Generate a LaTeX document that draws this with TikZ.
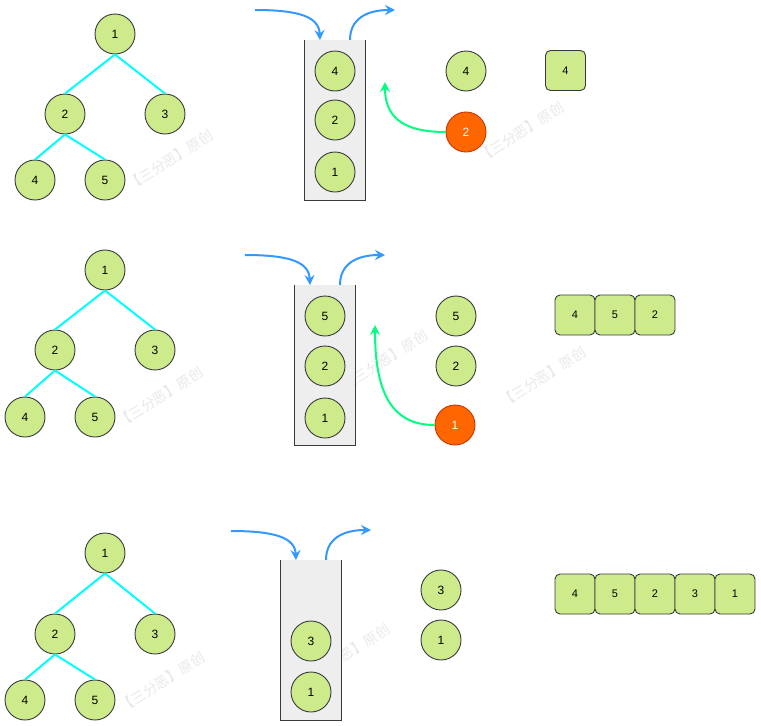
\documentclass[tikz,border=0pt]{standalone}
\usepackage{fontspec}
\setmainfont{Liberation Sans}
\newfontfamily\cjk{Noto Sans CJK SC}
\usetikzlibrary{arrows.meta}
\definecolor{nfill}{HTML}{CDEB8B}
\definecolor{nline}{HTML}{36393D}
\definecolor{rfill}{HTML}{FF6600}
\definecolor{rline}{HTML}{C73500}
\definecolor{edgecyan}{HTML}{00FFFF}
\definecolor{arrblue}{HTML}{3399FF}
\definecolor{arrgreen}{HTML}{00FF80}
\definecolor{stackfill}{HTML}{EEEEEE}
\definecolor{wmark}{HTML}{E9E9E9}
\begin{document}
\begin{tikzpicture}[x=1pt,y=-1pt,
  tnode/.style={circle,draw=nline,fill=nfill,line width=0.9pt,minimum size=40pt,inner sep=0pt,font=\fontsize{12}{14}\selectfont},
  rnode/.style={tnode,draw=rline,fill=rfill,text=white},
  sqnode/.style={rectangle,rounded corners=5pt,draw=nline,fill=nfill,line width=0.9pt,minimum size=40pt,inner sep=0pt,font=\fontsize{11}{13}\selectfont},
  tedge/.style={draw=edgecyan,line width=2pt},
  stackbox/.style={rectangle,fill=stackfill,draw=none,minimum width=60pt,minimum height=160pt,inner sep=0pt},
  stackline/.style={draw=nline,line width=1pt},
  bluearr/.style={draw=arrblue,line width=2pt,-{Stealth[length=10pt,width=10pt,inset=3.5pt]}},
  greenarr/.style={draw=arrgreen,line width=2pt,-{Stealth[length=10pt,width=10pt,inset=3.5pt]}},
  wm/.style={text=wmark,rotate=32,font=\cjk\fontsize{14}{16}\selectfont,inner sep=0pt}
]
\useasboundingbox[fill=white] (0,0) rectangle (761,726);

% watermarks
\node[wm] (w1) at (170,160) {【三分恶】原创};
\node[wm] (w2) at (521,132) {【三分恶】原创};
\node[wm] (w3) at (160,397) {【三分恶】原创};
\node[wm] (w4) at (385,360) {【三分恶】原创};
\node[wm] (w5) at (543,377) {【三分恶】原创};
\node[wm] (w6) at (162,682) {【三分恶】原创};
\node[wm] (w7) at (347,654) {【三分恶】原创};

% ===== Panel 1 =====
\node[tnode] (a1) at (115,34) {1};
\node[tnode] (a2) at (65,114) {2};
\node[tnode] (a3) at (165,114) {3};
\node[tnode] (a4) at (35,180) {4};
\node[tnode] (a5) at (105,180) {5};
\draw[tedge] (a1.south) -- (a2.north);
\draw[tedge] (a1.south) -- (a3.north);
\draw[tedge] (a2.south) -- (a4.north);
\draw[tedge] (a2.south) -- (a5.north);

\node[stackbox] (s1) at (335,120) {};
\draw[stackline] (s1.north west) -- (s1.south west) -- (s1.south east) -- (s1.north east);
\node[tnode] (s1a) at (335,71) {4};
\node[tnode] (s1b) at (335,120) {2};
\node[tnode] (s1c) at (335,172) {1};
\coordinate (in1s) at (255,10);
\coordinate (in1e) at (320,40);
\coordinate (out1s) at (350,40);
\coordinate (out1e) at (395,10);
\draw[bluearr] (in1s) .. controls (300,10) and (319,17) .. (in1e);
\draw[bluearr] (out1s) .. controls (350,20) and (365,10) .. (out1e);

\node[rnode] (r1) at (466,132) {2};
\coordinate (g1e) at (385,82);
\draw[greenarr] (r1.west) .. controls (400,132) and (385,115) .. (g1e);
\node[tnode] (o1a) at (466,71) {4};
\node[sqnode] (q1a) at (565.5,70.5) {4};

% ===== Panel 2 =====
\node[tnode] (b1) at (105,270) {1};
\node[tnode] (b2) at (55,350) {2};
\node[tnode] (b3) at (155,350) {3};
\node[tnode] (b4) at (25,417) {4};
\node[tnode] (b5) at (95,417) {5};
\draw[tedge] (b1.south) -- (b2.north);
\draw[tedge] (b1.south) -- (b3.north);
\draw[tedge] (b2.south) -- (b4.north);
\draw[tedge] (b2.south) -- (b5.north);

\node[stackbox] (s2) at (325,365) {};
\draw[stackline] (s2.north west) -- (s2.south west) -- (s2.south east) -- (s2.north east);
\node[tnode] (s2a) at (325,316) {5};
\node[tnode] (s2b) at (325,366) {2};
\node[tnode] (s2c) at (325,418) {1};
\coordinate (in2s) at (245,255);
\coordinate (in2e) at (310,285);
\coordinate (out2s) at (340,285);
\coordinate (out2e) at (385,255);
\draw[bluearr] (in2s) .. controls (290,255) and (309,262) .. (in2e);
\draw[bluearr] (out2s) .. controls (340,265) and (355,255) .. (out2e);

\node[rnode] (r2) at (455,425) {1};
\coordinate (g2e) at (375,325);
\draw[greenarr] (r2.west) .. controls (390,425) and (375,390) .. (g2e);
\node[tnode] (o2a) at (456,316) {5};
\node[tnode] (o2b) at (456,366) {2};
\node[sqnode] (q2a) at (575,315) {4};
\node[sqnode] (q2b) at (615,315) {5};
\node[sqnode] (q2c) at (655,315) {2};

% ===== Panel 3 =====
\node[tnode] (c1) at (105,553) {1};
\node[tnode] (c2) at (55,634) {2};
\node[tnode] (c3) at (155,634) {3};
\node[tnode] (c4) at (25,700) {4};
\node[tnode] (c5) at (95,700) {5};
\draw[tedge] (c1.south) -- (c2.north);
\draw[tedge] (c1.south) -- (c3.north);
\draw[tedge] (c2.south) -- (c4.north);
\draw[tedge] (c2.south) -- (c5.north);

\node[stackbox] (s3) at (311,640) {};
\draw[stackline] (s3.north west) -- (s3.south west) -- (s3.south east) -- (s3.north east);
\node[tnode] (s3a) at (311,641) {3};
\node[tnode] (s3b) at (311,692) {1};
\coordinate (in3s) at (231,531);
\coordinate (in3e) at (296,560);
\coordinate (out3s) at (326,560);
\coordinate (out3e) at (371,530);
\draw[bluearr] (in3s) .. controls (276,531) and (295,538) .. (in3e);
\draw[bluearr] (out3s) .. controls (326,540) and (341,530) .. (out3e);

\node[tnode] (o3a) at (441,590) {3};
\node[tnode] (o3b) at (441,640) {1};
\node[sqnode] (q3a) at (575,594) {4};
\node[sqnode] (q3b) at (615,594) {5};
\node[sqnode] (q3c) at (655,594) {2};
\node[sqnode] (q3d) at (695,594) {3};
\node[sqnode] (q3e) at (735,594) {1};
\end{tikzpicture}
\end{document}
